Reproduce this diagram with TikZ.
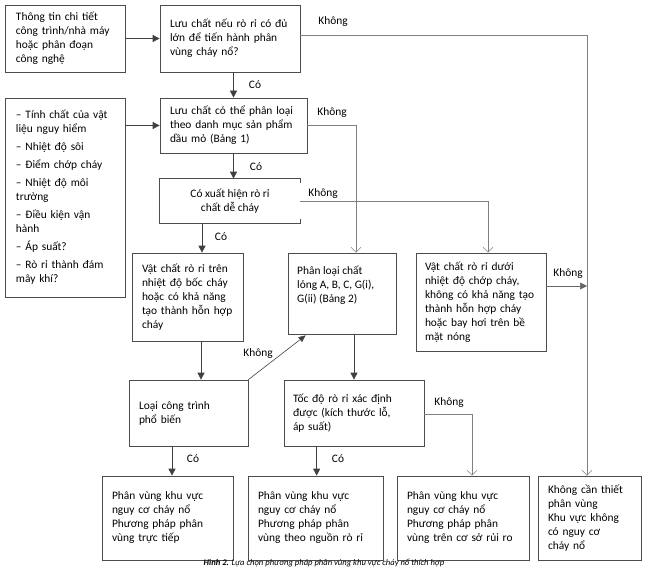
\documentclass[tikz,border=0pt]{standalone}
\usepackage{fontspec}
\setmainfont{Carlito}
\usetikzlibrary{arrows.meta,calc}
\begin{document}
\begin{tikzpicture}[x=1pt,y=-1pt,
  box/.style={draw=black!70, line width=0.7pt, align=left, inner xsep=0pt, inner ysep=0pt, font=\fontsize{11.4}{14}\selectfont, anchor=center},
  txt/.style={align=left, inner sep=0pt, font=\fontsize{11.4}{14}\selectfont},
  arr/.style={draw=black!75, line width=0.7pt, -{Triangle[length=7pt,width=7pt]}},
  garr/.style={draw=black!50, line width=0.6pt, -{Straight Barb[length=5pt,width=10pt]}},
  lbl/.style={font=\fontsize{11.4}{12}\selectfont, inner sep=0pt}]
\useasboundingbox (0,0) rectangle (650,583);

% boxes
\node[box, minimum width=120, minimum height=67, text width=98] (b1) at (65,38.5)
  {Thông tin chi tiết\\công trình/nhà máy\\hoặc phân đoạn\\công nghệ};
\node[box, minimum width=140, minimum height=67, text width=120] (b2) at (230,38.5)
  {Lưu chất nếu rò rỉ có đủ\\lớn để tiến hành phân\\vùng cháy nổ?};
\node[box, minimum width=147, minimum height=55, text width=127] (b3) at (233.5,125.5)
  {Lưu chất có thể phân loại\\theo danh mục sản phẩm\\dầu mỏ (Bảng 1)};
\node[box, draw=none, align=center, minimum width=140, minimum height=44] (b4) at (230,201)
  {Có xuất hiện rò rỉ\\chất dễ cháy};
\draw[black!70, line width=0.7pt] ($(b4.north east)+(0,4)$) -- (b4.north east) -- (b4.north west)
  -- (b4.south west) -- (b4.south east) -- ++(0,-4);
\node[box, minimum width=120, minimum height=199, text width=98] (list) at (65,197.5)
  {– Tính chất của vật\\liệu nguy hiểm\\[4pt]– Nhiệt độ sôi\\[4pt]– Điểm chớp cháy\\[4pt]– Nhiệt độ môi\\trường\\[4pt]– Điều kiện vận\\hành\\[4pt]– Áp suất?\\[4pt]– Rò rỉ thành đám\\mây khí?};
\node[box, minimum width=111, minimum height=88, text width=91] (b6) at (187.5,297)
  {Vật chất rò rỉ trên\\nhiệt độ bốc cháy\\hoặc có khả năng\\tạo thành hỗn hợp\\cháy};
\node[box, minimum width=108, minimum height=81] (b7) at (342,293.5) {};
\node[txt, anchor=north west] (b7t) at (297,266)
  {Phân loại chất\\lỏng A, B, C, G(i),\\G(ii) (Bảng 2)};
\node[box, minimum width=130, minimum height=98, text width=112] (b8) at (481,302)
  {Vật chất rò rỉ dưới\\nhiệt độ chớp cháy,\\không có khả năng tạo\\thành hỗn hợp cháy\\hoặc bay hơi trên bề\\mặt nóng};
\node[box, minimum width=119, minimum height=66, text width=99] (b9) at (188.5,413)
  {Loại công trình\\phổ biến};
\node[box, minimum width=140, minimum height=66, text width=122] (b10) at (354,413)
  {Tốc độ rò rỉ xác định\\được (kích thước lỗ,\\áp suất)};
\node[box, minimum width=131, minimum height=84, text width=111] (bA) at (167.5,518)
  {Phân vùng khu vực\\nguy cơ cháy nổ\\Phương pháp phân\\vùng trực tiếp};
\node[box, minimum width=135, minimum height=84, text width=115] (bB) at (315.5,518)
  {Phân vùng khu vực\\nguy cơ cháy nổ\\Phương pháp phân\\vùng theo nguồn rò rỉ};
\node[box, minimum width=132, minimum height=84, text width=112] (bC) at (463,518)
  {Phân vùng khu vực\\nguy cơ cháy nổ\\Phương pháp phân\\vùng trên cơ sở rủi ro};
\node[box, minimum width=103, minimum height=84, text width=83] (bD) at (589.5,518)
  {Không cần thiết\\phân vùng\\Khu vực không\\có nguy cơ\\cháy nổ};

% caption
\node[inner sep=0pt, font=\fontsize{8.6}{9}\selectfont\itshape] (cap) at (324,563)
  {\textbf{Hình 2.} Lựa chọn phương pháp phân vùng khu vực cháy nổ thích hợp};

% helper coordinates
\coordinate (rail) at ($(bD.north)+(-2.5,0)$);
\coordinate (b2k) at ($(b2.east)+(0,-3.5)$);
\coordinate (b7in) at ($(b7.north)+(14,0)$);
\coordinate (b8in) at ($(b8.north)+(7,0)$);
\coordinate (b8out) at ($(b8.east)+(0,-16)$);
\coordinate (b10out) at ($(b10.east)+(0,1)$);
\coordinate (bCin) at ($(bC.north)+(9,0)$);
\coordinate (b4c) at ($(b4.south)+(-28,0)$);
\coordinate (b6c) at ($(b6.south)+(13.5,0)$);
\coordinate (b9c) at ($(b9.south)+(-16.5,0)$);
\coordinate (b10c) at ($(b10.south west)+(33,0)$);
\coordinate (b7c) at ($(b7.south west)+(18,1)$);

% connectors
\draw[arr] (b1.east) -- (b2.west);
\draw[arr] (list.east |- b3.west) -- (b3.west);
\draw[arr] (b2.south -| b3.north) -- (b3.north);
\draw[arr] (b3.south) -- (b3.south |- b4.north);
\draw[arr] (b4c) -- (b4c |- b6.north);
\draw[arr] (b6c) -- (b6c |- b9.north);
\draw[draw=black!75, line width=0.6pt, -{Triangle[length=7pt,width=6pt]}] (b9.north east) -- (b7c);
\draw[arr] (b7.south -| b10.north) -- (b10.north);
\draw[arr] (b9c) -- (b9c |- bA.north);
\draw[arr] (b10c) -- (b10c |- bB.north);

\draw[garr] (b2k) -- (b2k -| rail) -- (rail);
\draw[garr] (b3.east) -- (b3.east -| b7in) -- (b7in);
\draw[garr] (b4.east) -- (b4.east -| b8in) -- (b8in);
\draw[draw=black!60, line width=0.6pt, -{Triangle[length=7pt,width=7pt]}] (b8out) -- (b8out -| rail);
\draw[garr] (b10out) -- (b10out -| bCin) -- (bCin);

% labels
\node[lbl] (l1) at (333,22) {Không};
\node[lbl] (l2) at (255,85) {Có};
\node[lbl] (l3) at (332,113) {Không};
\node[lbl] (l4) at (256,167) {Có};
\node[lbl] (l5) at (323,194) {Không};
\node[lbl] (l6) at (221,237) {Có};
\node[lbl] (l7) at (258,354) {Không};
\node[lbl] (l8) at (568,274) {Không};
\node[lbl] (l9) at (449,403) {Không};
\node[lbl] (l10) at (193,459) {Có};
\node[lbl] (l11) at (338,459) {Có};
\end{tikzpicture}
\end{document}
